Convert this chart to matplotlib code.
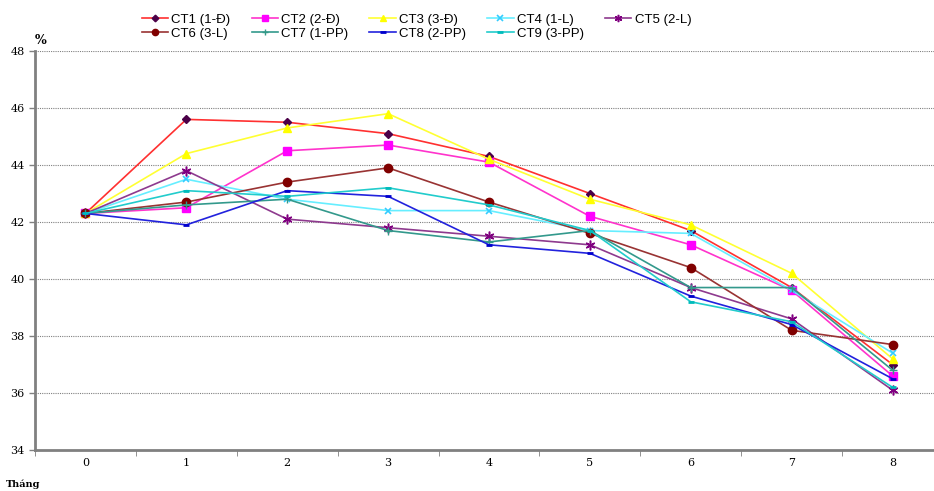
import matplotlib
matplotlib.use("Agg")
import matplotlib.pyplot as plt

months = [0, 1, 2, 3, 4, 5, 6, 7, 8]
labels = ["CT1 (1-Đ)", "CT2 (2-Đ)", "CT3 (3-Đ)", "CT4 (1-L)", "CT5 (2-L)",
          "CT6 (3-L)", "CT7 (1-PP)", "CT8 (2-PP)", "CT9 (3-PP)"]
ct1 = [42.3, 45.6, 45.5, 45.1, 44.3, 43.0, 41.7, 39.7, 37.0]
ct2 = [42.3, 42.5, 44.5, 44.7, 44.1, 42.2, 41.2, 39.6, 36.6]
ct3 = [42.3, 44.4, 45.3, 45.8, 44.2, 42.8, 41.9, 40.2, 37.2]
ct4 = [42.3, 43.5, 42.8, 42.4, 42.4, 41.7, 41.6, 39.6, 37.4]
ct5 = [42.3, 43.8, 42.1, 41.8, 41.5, 41.2, 39.7, 38.6, 36.1]
ct6 = [42.3, 42.7, 43.4, 43.9, 42.7, 41.6, 40.4, 38.2, 37.7]
ct7 = [42.3, 42.6, 42.8, 41.7, 41.3, 41.7, 39.7, 39.7, 36.8]
ct8 = [42.3, 41.9, 43.1, 42.9, 41.2, 40.9, 39.4, 38.4, 36.5]
ct9 = [42.3, 43.1, 42.9, 43.2, 42.6, 41.7, 39.2, 38.5, 36.2]
series = [ct1, ct2, ct3, ct4, ct5, ct6, ct7, ct8, ct9]

styles = [
    dict(color="#FF3030", marker="D", mfc="#4B0048", mec="#4B0048", ms=4.5),
    dict(color="#FF33CC", marker="s", mfc="#FF00FF", mec="#FF00FF", ms=6),
    dict(color="#FFFF33", marker="^", mfc="#FFFF00", mec="#FFFF00", ms=6),
    dict(color="#66EEFF", marker="x", mfc="#33CCFF", mec="#33CCFF", ms=5, mew=1.2),
    dict(color="#8E3A8E", marker=(6, 2, 0), mfc="#800080", mec="#800080", ms=7, mew=1.1),
    dict(color="#993333", marker="o", mfc="#800000", mec="#800000", ms=6),
    dict(color="#33998C", marker="+", mfc="#339988", mec="#339988", ms=6, mew=1),
    dict(color="#2222DD", marker="_", mfc="#0000CC", mec="#0000CC", ms=5, mew=2),
    dict(color="#22CCCC", marker="_", mfc="#00BBBB", mec="#00BBBB", ms=5, mew=2),
]

fig = plt.figure(figsize=(9.34, 4.91), dpi=100)
ax = fig.add_axes([35/934, 41/491, 908/934, 399/491])

handles = []
for lab, vals, st in zip(labels, series, styles):
    h, = ax.plot(months, vals, lw=1.2, label=lab, **st)
    handles.append(h)

ax.set_xlim(-0.5, 8.5)
ax.set_ylim(34, 48)
ax.set_yticks(range(34, 49, 2))
ax.set_xticks(months)
ax.set_xticklabels([str(m) for m in months], fontsize=8, family="DejaVu Serif")
ax.set_yticklabels([str(v) for v in range(34, 49, 2)], fontsize=8, family="DejaVu Serif")
ax.tick_params(axis="x", length=0, pad=6)
ax.tick_params(axis="y", length=4, width=1, color="#808080", direction="out")
ax.set_xticks([i + 0.5 for i in range(-1, 9)], minor=True)
ax.tick_params(axis="x", which="minor", length=4, color="#808080", direction="out")
ax.grid(axis="y", color="#808080", linestyle=(0, (1, 1)), lw=0.8)
ax.set_axisbelow(True)
for s in ["top", "right"]:
    ax.spines[s].set_visible(False)
for s in ["left", "bottom"]:
    ax.spines[s].set_color("#808080")
    ax.spines[s].set_linewidth(2)

fig.text(35/934, 1 - 44/491, "%", fontsize=9, fontweight="bold", family="DejaVu Serif",
         ha="left", va="baseline")
fig.text(6/934, 1 - 487/491, "Tháng", fontsize=7, fontweight="bold", family="DejaVu Serif",
         ha="left", va="baseline")

order = [0, 5, 1, 6, 2, 7, 3, 8, 4]
fig.legend([handles[i] for i in order], [labels[i] for i in order],
           loc="upper left", bbox_to_anchor=(135/934, 1 - 7/491), ncol=5, frameon=False,
           prop={"family": "Liberation Sans", "size": 9.5}, handlelength=2.0,
           markerscale=0.75, columnspacing=1.6, labelspacing=0.15, handletextpad=0.25,
           borderpad=0)

fig.savefig("out.png", dpi=100)
